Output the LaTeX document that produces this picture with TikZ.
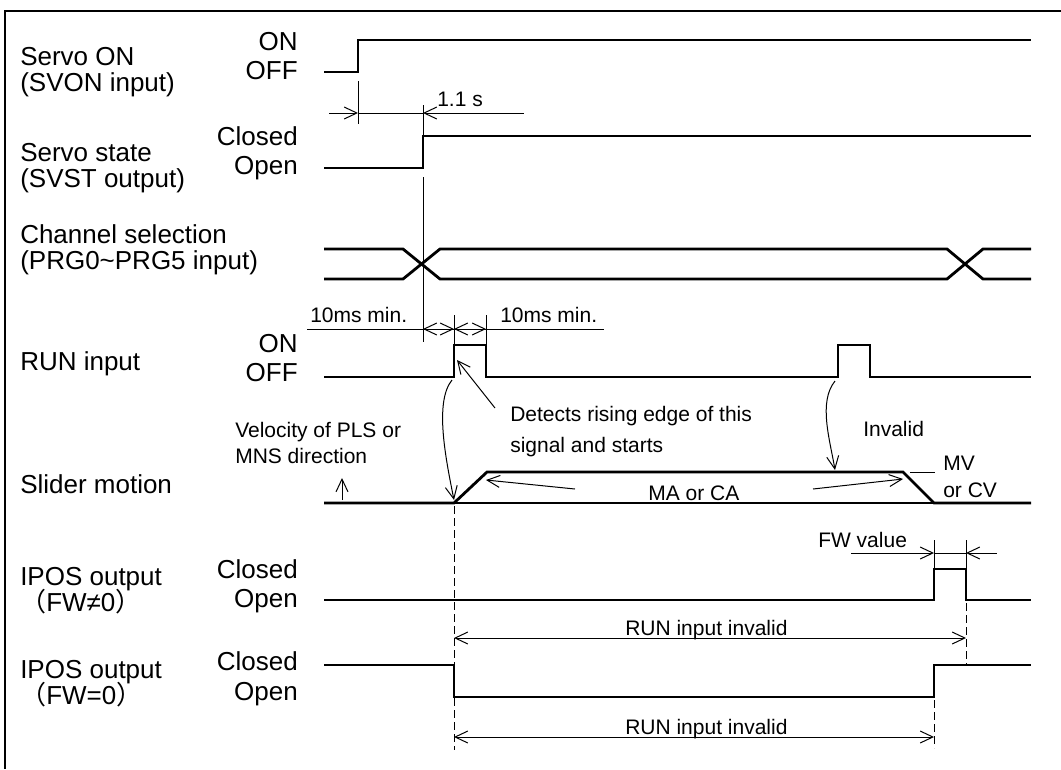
\documentclass[tikz,border=0pt]{standalone}
\usepackage{fontspec}
\setmainfont{Liberation Sans}
\newfontfamily\cjkfont{Noto Sans CJK JP}
\usetikzlibrary{arrows.meta}
\begin{document}
\begin{tikzpicture}[x=0.75pt,y=-0.75pt,
  >={Straight Barb[length=9.5pt,width=9pt]},
  sig/.style={line width=2.1pt, line join=miter},
  thin/.style={line width=0.75pt},
  dim/.style={line width=0.75pt},
  base/.style={line width=1pt},
  dsh/.style={line width=0.75pt, dash pattern=on 6pt off 3pt},
  big/.style={font=\fontsize{19.5}{23}\selectfont, inner sep=0pt},
  lbl/.style={big, anchor=base west},
  lvl/.style={big, anchor=base east},
  small/.style={font=\fontsize{15.75}{19}\selectfont, inner sep=0pt, anchor=base west},
]
\useasboundingbox (0,0) rectangle (1061,769);
% frame
\draw[line width=2.2pt] (1061,11) -- (5,11) -- (5,769);

% left labels
\node[lbl] (svon1) at (20,65) {Servo ON};
\node[lbl] (svon2) at (20,91) {(SVON input)};
\node[lbl] (svst1) at (20,161) {Servo state};
\node[lbl] (svst2) at (20,187) {(SVST output)};
\node[lbl] (ch1) at (20,243) {Channel selection};
\node[lbl] (ch2) at (20,269) {(PRG0\textasciitilde PRG5 input)};
\node[lbl] (run) at (20,370) {RUN input};
\node[lbl] (slider) at (20,493) {Slider motion};
\node[lbl] (ipos1) at (20,585) {IPOS output};
\node[lbl] (ipos1b) at (20,611) {{\cjkfont （}FW≠0{\cjkfont ）}};
\node[lbl] (ipos2) at (20,678) {IPOS output};
\node[lbl] (ipos2b) at (20,704) {{\cjkfont （}FW=0{\cjkfont ）}};

% level labels
\node[lvl] (on1) at (298,50) {ON};
\node[lvl] (off1) at (298,79) {OFF};
\node[lvl] (cl1) at (298,145) {Closed};
\node[lvl] (op1) at (298,174) {Open};
\node[lvl] (on2) at (298,352) {ON};
\node[lvl] (off2) at (298,381) {OFF};
\node[lvl] (cl3) at (298,578) {Closed};
\node[lvl] (op3) at (298,607) {Open};
\node[lvl] (cl4) at (298,670) {Closed};
\node[lvl] (op4) at (298,700) {Open};

% signals
\draw[sig] (324,72) -- (358,72) -- (358,40) -- (1031,40);
\draw[sig] (324,168) -- (423,168) -- (423,136) -- (1031,136);
\draw[sig] (324,249) -- (403,249) -- (440,279) -- (947,279) -- (983,249) -- (1031,249);
\draw[sig] (324,279) -- (403,279) -- (440,249) -- (947,249) -- (983,279) -- (1031,279);
\draw[sig] (324,377) -- (454,377) -- (454,345) -- (486,345) -- (486,377) -- (838,377) -- (838,345) -- (870,345) -- (870,377) -- (1031,377);
\draw[sig] (324,503) -- (454,503) -- (487,472) -- (903,472) -- (934,503) -- (1031,503);
\draw[base] (454,503) -- (934,503);
\draw[sig] (324,600) -- (934,600) -- (934,569) -- (966,569) -- (966,600) -- (1031,600);
\draw[sig] (324,665) -- (454,665) -- (454,697) -- (934,697) -- (934,665) -- (1031,665);

% 1.1 s dimension
\draw[thin] (358,81) -- (358,124);
\draw[thin] (423,105) -- (423,136);
\draw[thin] (423,177) -- (423,342);
\draw[dim,->] (329,113) -- (358,113);
\draw[dim] (358,113) -- (423,113);
\draw[dim,<-] (423,113) -- (524,113);
\node[small] (t11) at (437,106) {1.1 s};

% 10ms min dimension
\draw[thin] (454,315) -- (454,345);
\draw[thin] (486,315) -- (486,345);
\draw[dim] (307,329) -- (604,329);
\draw[dim,<->] (423,329) -- (454,329);
\draw[dim,<->] (454,329) -- (486,329);
\node[small] (t10a) at (310,322) {10ms min.};
\node[small] (t10b) at (500,322) {10ms min.};

% annotations
\node[small] (det1) at (510,421) {Detects rising edge of this};
\node[small] (det2) at (510,452) {signal and starts};
\draw[dim,->] (495,408) -- (457,360);
\node[small] (vel1) at (235,437) {Velocity of PLS or};
\node[small] (vel2) at (235,463) {MNS direction};
\draw[dim,->] (342,500) -- (342,478);
\node[small] (inv) at (863,436) {Invalid};
\draw[dim,->] (452,380) .. controls (434,402) and (446,460) .. (454,500);
\draw[dim,->] (835,381) .. controls (818,402) and (830,440) .. (835,470);
\node[small] (ma) at (648,500) {MA or CA};
\draw[dim,->] (575,489) -- (486,480);
\draw[dim,->] (813,489) -- (903,479);
\draw[thin] (910,472) -- (935,472);
\node[small] (mv1) at (943,470) {MV};
\node[small] (mv2) at (943,497) {or CV};

% FW value dimension
\draw[thin] (934,540) -- (934,569);
\draw[thin] (966,540) -- (966,569);
\draw[dim,->] (851,553) -- (934,553);
\draw[dim] (934,553) -- (966,553);
\draw[dim,<-] (966,553) -- (997,553);
\node[small] (fw) at (818,547) {FW value};

% RUN input invalid
\draw[dsh] (454,506) -- (454,750);
\draw[dsh] (966,603) -- (966,665);
\draw[dsh] (934,700) -- (934,748);
\draw[dim,<->] (454,638) -- (966,638);
\node[small] (ri1) at (625,635) {RUN input invalid};
\draw[dim,<->] (454,737) -- (934,737);
\node[small] (ri2) at (625,734) {RUN input invalid};
\end{tikzpicture}
\end{document}
